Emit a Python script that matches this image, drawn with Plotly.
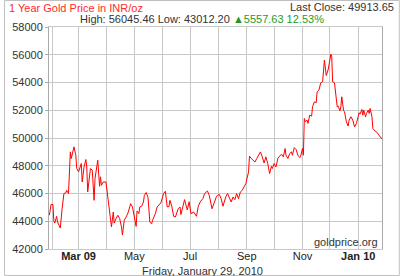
import plotly.graph_objects as go

dates = [
    "2009-01-28", "2009-01-30", "2009-02-01", "2009-02-02", "2009-02-03", "2009-02-05",
    "2009-02-06", "2009-02-09", "2009-02-11", "2009-02-13", "2009-02-15", "2009-02-16",
    "2009-02-18", "2009-02-20", "2009-02-21", "2009-02-22", "2009-02-24", "2009-02-26",
    "2009-02-27", "2009-03-01", "2009-03-03", "2009-03-04", "2009-03-05", "2009-03-07",
    "2009-03-09", "2009-03-10", "2009-03-11", "2009-03-13", "2009-03-14", "2009-03-16",
    "2009-03-18", "2009-03-19", "2009-03-22", "2009-03-24", "2009-03-25", "2009-03-26",
    "2009-03-28", "2009-03-31", "2009-04-02", "2009-04-04", "2009-04-06", "2009-04-08",
    "2009-04-09", "2009-04-11", "2009-04-13", "2009-04-15", "2009-04-17", "2009-04-18",
    "2009-04-20", "2009-04-22", "2009-04-24", "2009-04-26", "2009-04-27", "2009-04-29",
    "2009-04-30", "2009-05-02", "2009-05-03", "2009-05-04", "2009-05-06", "2009-05-07",
    "2009-05-09", "2009-05-11", "2009-05-12", "2009-05-14", "2009-05-16", "2009-05-18",
    "2009-05-20", "2009-05-21", "2009-05-24", "2009-05-26", "2009-05-28", "2009-05-30",
    "2009-06-01", "2009-06-02", "2009-06-04", "2009-06-05", "2009-06-06", "2009-06-08",
    "2009-06-09", "2009-06-11", "2009-06-13", "2009-06-15", "2009-06-17", "2009-06-18",
    "2009-06-20", "2009-06-21", "2009-06-22", "2009-06-25", "2009-06-26", "2009-06-28",
    "2009-06-30", "2009-07-02", "2009-07-05", "2009-07-08", "2009-07-10", "2009-07-12",
    "2009-07-15", "2009-07-17", "2009-07-20", "2009-07-22", "2009-07-25", "2009-07-28",
    "2009-07-30", "2009-08-02", "2009-08-04", "2009-08-06", "2009-08-09", "2009-08-11",
    "2009-08-13", "2009-08-15", "2009-08-17", "2009-08-19", "2009-08-21", "2009-08-23",
    "2009-08-25", "2009-08-27", "2009-08-29", "2009-08-31", "2009-09-03", "2009-09-04",
    "2009-09-06", "2009-09-08", "2009-09-10", "2009-09-12", "2009-09-14", "2009-09-16",
    "2009-09-18", "2009-09-20", "2009-09-22", "2009-09-24", "2009-09-26", "2009-09-28",
    "2009-09-29", "2009-10-01", "2009-10-03", "2009-10-05", "2009-10-07", "2009-10-09",
    "2009-10-11", "2009-10-13", "2009-10-14", "2009-10-16", "2009-10-18", "2009-10-20",
    "2009-10-21", "2009-10-23", "2009-10-25", "2009-10-27", "2009-10-29", "2009-10-30",
    "2009-11-01", "2009-11-02", "2009-11-03", "2009-11-04", "2009-11-06", "2009-11-07",
    "2009-11-09", "2009-11-11", "2009-11-12", "2009-11-14", "2009-11-16", "2009-11-17",
    "2009-11-19", "2009-11-21", "2009-11-23", "2009-11-24", "2009-11-25", "2009-11-27",
    "2009-11-29", "2009-12-01", "2009-12-02", "2009-12-03", "2009-12-04", "2009-12-06",
    "2009-12-07", "2009-12-09", "2009-12-10", "2009-12-12", "2009-12-13", "2009-12-14",
    "2009-12-16", "2009-12-17", "2009-12-19", "2009-12-21", "2009-12-22", "2009-12-24",
    "2009-12-26", "2009-12-28", "2009-12-30", "2010-01-01", "2010-01-02", "2010-01-03",
    "2010-01-05", "2010-01-06", "2010-01-07", "2010-01-09", "2010-01-10", "2010-01-12",
    "2010-01-13", "2010-01-14", "2010-01-16", "2010-01-17", "2010-01-19", "2010-01-21",
    "2010-01-24", "2010-01-27",
]

prices = [
    44430, 45220, 45200, 44000, 43870, 44350,
    43950, 43510, 44900, 46000, 46040, 46230,
    46000, 49000, 48520, 48760, 49360, 48760,
    47800, 47560, 47910, 48160, 46830, 47910,
    48450, 47910, 46110, 47150, 47800, 47680,
    45510, 47070, 48400, 46520, 47200, 46590,
    46830, 46830, 45750, 45030, 43600, 44660,
    43870, 44190, 44430, 44190, 43580, 43012,
    44070, 44300, 44590, 45030, 45270, 45030,
    44620, 43700, 43630, 44740, 44550, 45030,
    45080, 45390, 45870, 46070, 45710, 43940,
    43830, 44070, 44550, 45030, 45220, 45320,
    45750, 46000, 46160, 45270, 45030, 45080,
    45510, 45080, 44360, 44310, 44660, 44900,
    45030, 44480, 44760, 45560, 45300, 44810,
    45410, 44550, 44660, 44360, 45080, 45390,
    45630, 46000, 46180, 45870, 44900, 45510,
    45800, 45940, 45630, 45080, 45750, 46000,
    45630, 45390, 45750, 45560, 46000, 45630,
    46110, 46230, 46470, 46710, 47560, 48690,
    48520, 48400, 48270, 48520, 48760, 49000,
    48640, 48200, 48640, 48160, 47440, 47960,
    47800, 48160, 47910, 48520, 48690, 48830,
    48640, 49240, 48760, 48520, 48880, 49000,
    48760, 49310, 49170, 48760, 48590, 48690,
    49240, 48760, 51410, 51170, 51290, 51050,
    51650, 51580, 52250, 52610, 52540, 53330,
    53450, 53980, 54050, 55000, 55620, 54500,
    54900, 55620, 56045, 55900, 54050, 53980,
    53210, 52250, 52300, 51960, 52250, 52970,
    51960, 51890, 51170, 50860, 51290, 51530,
    51290, 50800, 51050, 51650, 51820, 51720,
    52060, 51650, 52010, 51530, 51770, 52010,
    51770, 52130, 51530, 50690, 50520, 50450,
    50210, 49914,
]

y_ticks = [42000, 44000, 46000, 48000, 50000, 52000, 54000, 56000, 58000]
x_tickvals = ["2009-03-01", "2009-05-01", "2009-07-01", "2009-09-01", "2009-11-01", "2010-01-01"]
x_ticktext = ["<b>Mar 09</b>", "May", "Jul", "Sep", "Nov", "<b>Jan 10</b>"]

title_text = "1 Year Gold Price in INR/oz"
last_close_text = "Last Close: 49913.65"
stats_text = "High: 56045.46 Low: 43012.20"
change_text = "▲5557.63 12.53%"
date_text = "Friday, January 29, 2010"
source_text = "goldprice.org"

FONT = "Liberation Sans, Arial, sans-serif"
GRID = "#c8c8c8"

fig = go.Figure()
fig.add_trace(go.Scatter(
    x=dates, y=prices, mode="lines",
    line=dict(color="#ff0000", width=1),
    hoverinfo="skip", showlegend=False,
))

fig.update_layout(
    width=400, height=276,
    margin=dict(l=45, r=18, t=27, b=27),
    paper_bgcolor="white", plot_bgcolor="white",
    font=dict(family=FONT, size=11, color="#333333"),
    xaxis=dict(
        type="date",
        range=["2009-01-27 16:00", "2010-01-27"],
        tickmode="array", tickvals=x_tickvals, ticktext=x_ticktext,
        showgrid=True, gridcolor=GRID, gridwidth=1,
        minor=dict(dtick="M1", tick0="2009-02-01", showgrid=True, gridcolor=GRID, gridwidth=1),
        ticks="", showline=True, linecolor=GRID, mirror=True,
        ticklabelstandoff=-3,
        tickfont=dict(family=FONT, size=11, color="#222222"),
        zeroline=False, fixedrange=True,
    ),
    yaxis=dict(
        range=[42000, 58000],
        tickmode="array", tickvals=y_ticks, ticktext=[str(v) for v in y_ticks],
        showgrid=True, gridcolor=GRID, gridwidth=1,
        ticks="outside", ticklen=3, tickcolor="#aaaaaa",
        showline=True, linecolor="#aaaaaa", mirror=True,
        tickfont=dict(family=FONT, size=11, color="#333333"),
        zeroline=False, fixedrange=True,
    ),
)

ann = [
    dict(text=title_text, x=2, y=8, color="#ff2a2a", xanchor="left"),
    dict(text=last_close_text, x=396, y=7, color="#333333", xanchor="right"),
    dict(text=stats_text + " <span style='color:#1f9a1f'>" + change_text + "</span>",
         x=200, y=19, color="#333333", xanchor="center"),
    dict(text=source_text, x=380, y=242, color="#333333", xanchor="right"),
    dict(text=date_text, x=200, y=270.5, color="#333333", xanchor="center"),
]
pw, ph = 400 - 45 - 18, 276 - 27 - 27
for a in ann:
    fig.add_annotation(
        text=a["text"], xref="paper", yref="paper",
        x=(a["x"] - 45) / pw, y=1 - (a["y"] - 27) / ph,
        xanchor=a["xanchor"], yanchor="middle", showarrow=False,
        font=dict(family=FONT, size=11, color=a["color"]),
    )

# outer frame of the image
fig.add_shape(type="rect", xref="paper", yref="paper",
              x0=-45 / pw, x1=1 + 17.5 / pw, y0=-26.5 / ph, y1=1 + 26.5 / ph,
              line=dict(color="#c0c0c0", width=1), layer="below")

fig.write_html("out.html")
